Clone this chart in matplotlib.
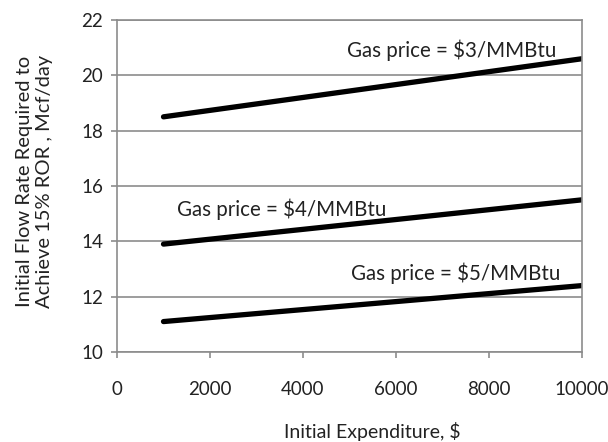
import matplotlib.pyplot as plt

# initial expenditure, $
expenditure = [1000, 10000]

# flow rate required (Mcf/day) for each gas price
rate_3 = [18.5, 20.6]
rate_4 = [13.9, 15.5]
rate_5 = [11.1, 12.4]

labels = ["Gas price = $3/MMBtu", "Gas price = $4/MMBtu", "Gas price = $5/MMBtu"]
label_pos = [(4950, 20.9), (1300, 15.15), (5030, 12.85)]

plt.rcParams['font.family'] = ['Lato', 'DejaVu Sans']

fig = plt.figure(figsize=(6.08, 4.42), dpi=100)
ax = fig.add_axes([117/608, 1 - 352/442, 465/608, 332/442])

for rate in (rate_3, rate_4, rate_5):
    ax.plot(expenditure, rate, color="black", lw=3.8, solid_capstyle="round")

for txt, (x, y) in zip(labels, label_pos):
    ax.text(x, y, txt, fontsize=14.8, color="#222222", va="center", ha="left")

ax.set_xlim(0, 10000)
ax.set_ylim(10, 22)
ax.set_xticks(range(0, 10001, 2000))
ax.set_yticks(range(10, 23, 2))
ax.grid(axis="y", color="#8c8c8c", lw=1.2)
ax.set_axisbelow(True)
for s in ax.spines.values():
    s.set_color("#8c8c8c")
    s.set_linewidth(1.2)
ax.tick_params(colors="#8c8c8c", labelcolor="#222222", labelsize=13.5, length=4, width=1.2)
ax.tick_params(axis="x", pad=17)
ax.tick_params(axis="y", pad=6)

ax.set_xlabel("Initial Expenditure, $", fontsize=14, color="#222222")
ax.xaxis.set_label_coords(0.548, -0.212)
ax.set_ylabel("Initial Flow Rate Required to\nAchieve 15% ROR , Mcf/day", fontsize=14.5,
              color="#222222", va="center")
ax.yaxis.set_label_coords(-0.178, 0.515)

fig.savefig("out.png", dpi=100, facecolor="white")
